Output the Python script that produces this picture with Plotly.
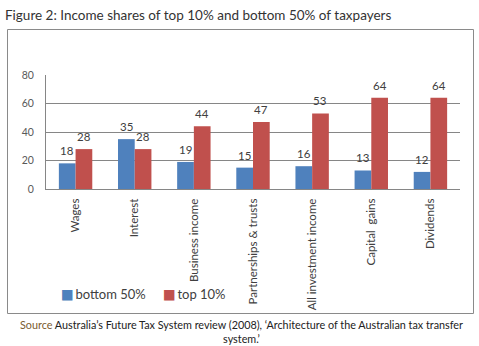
import plotly.graph_objects as go

categories = ["Wages", "Interest", "Business income", "Partnerships & trusts",
              "All investment income", "Capital  gains", "Dividends"]
bottom_50 = [18, 35, 19, 15, 16, 13, 12]
top_10 = [28, 28, 44, 47, 53, 64, 64]
y_ticks = [0, 20, 40, 60, 80]
series_names = ["bottom 50%", "top 10%"]
series_colors = ["#4F81BD", "#C0504D"]

W, H = 479, 346
L, R, T, B = 46, 19, 75, 157
pw, ph = W - L - R, H - T - B
BARGAP = 0.435
bar_px = pw / len(categories) * (1 - BARGAP) / 2

def px_x(x):
    return (x - L) / pw

def px_y(y):
    return (H - B - y) / ph

FONT = "Lato"

fig = go.Figure()
for name, vals, col in zip(series_names, [bottom_50, top_10], series_colors):
    fig.add_trace(go.Bar(x=categories, y=vals, name=name,
                         marker=dict(color=col, line=dict(width=0)),
                         showlegend=False))

annotations = []
for vals, sign in zip([bottom_50, top_10], [-1, 1]):
    for c, v in zip(categories, vals):
        annotations.append(dict(x=c, y=v, xref="x", yref="y", text=str(v),
                                showarrow=False, xanchor="center", yanchor="bottom",
                                xshift=sign * bar_px / 2, yshift=4,
                                font=dict(size=11.5, color="#404040", family=FONT)))

# legend entries
leg_x = [59, 161]
for name, col, lx in zip(series_names, series_colors, leg_x):
    annotations.append(dict(xref="paper", yref="paper", x=px_x(lx), y=px_y(294),
                            xanchor="left", yanchor="middle", showarrow=False,
                            text=f"<span style='color:{col};font-family:DejaVu Sans;font-size:13.5px'>■</span>\u2009{name}",
                            font=dict(size=13, color="#404040", family=FONT)))

annotations += [
    dict(text="Figure 2: Income shares of top 10% and bottom 50% of taxpayers",
         xref="paper", yref="paper", x=px_x(3), y=px_y(15), xanchor="left",
         yanchor="middle", showarrow=False,
         font=dict(size=13.5, color="#333333", family=FONT)),
    dict(text="<span style='color:#7a5c2e'>Source</span> Australia’s Future Tax System review (2008), ‘Architecture of the Australian tax transfer<br>system.’",
         xref="paper", yref="paper", x=px_x(241), y=px_y(331), xanchor="center",
         yanchor="middle", showarrow=False, align="center",
         font=dict(size=10.8, color="#222222", family=FONT)),
]

fig.update_layout(
    width=W, height=H,
    margin=dict(l=L, r=R, t=T, b=B, pad=0),
    paper_bgcolor="white", plot_bgcolor="white",
    barmode="group", bargap=BARGAP, bargroupgap=0,
    font=dict(family=FONT, size=10, color="#404040"),
    showlegend=False,
    xaxis=dict(tickangle=-90, showline=True, linecolor="#868686", linewidth=1,
               ticks="", ticklabelstandoff=4,
               tickfont=dict(size=11.5, color="#404040", family=FONT),
               showgrid=False),
    yaxis=dict(range=[0, 80], tickvals=y_ticks, showline=True, linecolor="#868686",
               linewidth=1, showgrid=True, gridcolor="#868686", gridwidth=1,
               ticks="", ticklen=0, zeroline=False, ticklabelstandoff=9,
               tickfont=dict(size=10.5, color="#595959", family=FONT)),
    shapes=[dict(type="rect", xref="paper", yref="paper",
                 x0=px_x(7.5), x1=px_x(473.5), y0=px_y(313.5), y1=px_y(29.5),
                 line=dict(color="#8a8a8a", width=1), fillcolor="rgba(0,0,0,0)",
                 layer="below")],
    annotations=annotations,
)

fig.write_html("out.html")
